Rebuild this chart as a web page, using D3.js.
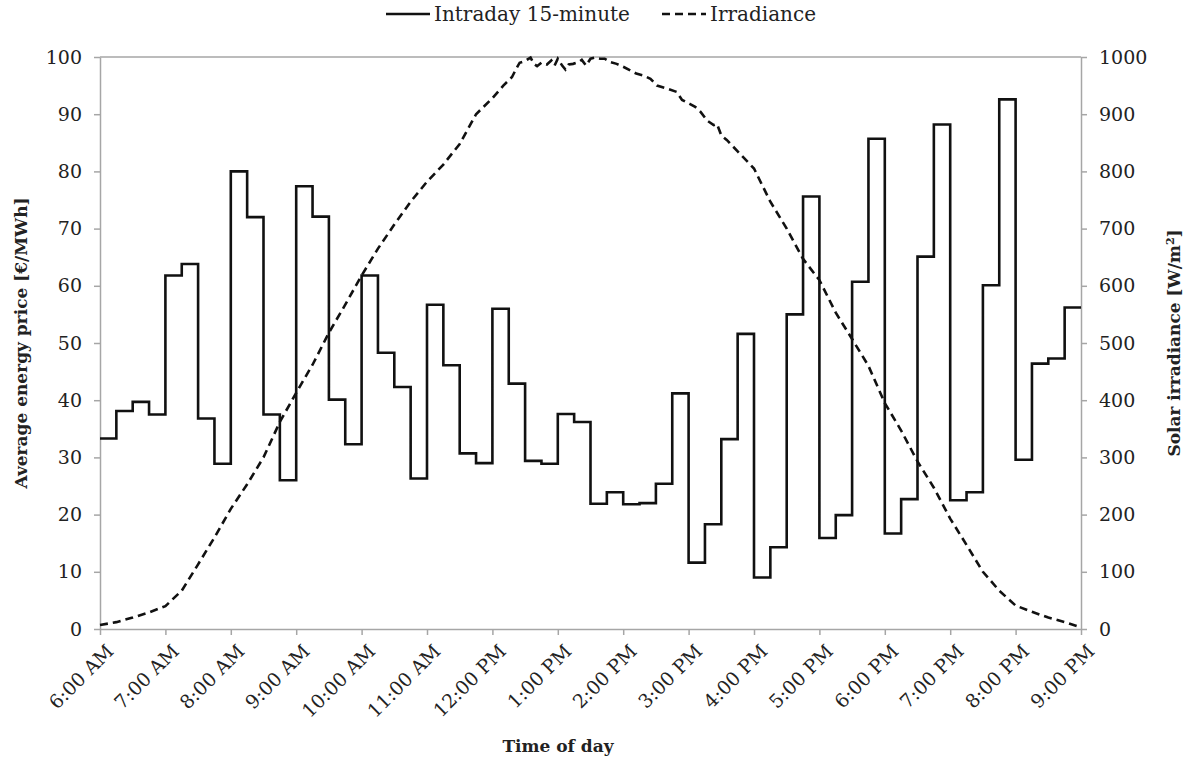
<!DOCTYPE html>
<html>
<head>
<meta charset="utf-8">
<script src="https://cdn.jsdelivr.net/npm/d3@7"></script>
<style>
  body { margin: 0; background: #fff; }
  svg text { font-family: "DejaVu Serif", "Liberation Serif", serif; fill: #222; }
  .axis path, .axis line { stroke: #a6a6a6; stroke-width: 1.5; }
  .axis text { font-size: 19px; }
  .title { font-size: 17px; font-weight: bold; }
</style>
</head>
<body>
<svg id="chart" width="1193" height="760"></svg>
<script>
// time labels, one per hour from 6:00 AM
var hourLabels = ["6:00 AM", "7:00 AM", "8:00 AM", "9:00 AM", "10:00 AM", "11:00 AM",
  "12:00 PM", "1:00 PM", "2:00 PM", "3:00 PM", "4:00 PM", "5:00 PM", "6:00 PM",
  "7:00 PM", "8:00 PM", "9:00 PM"];
var priceTicks = [0, 10, 20, 30, 40, 50, 60, 70, 80, 90, 100];
var irrTicks = [0, 100, 200, 300, 400, 500, 600, 700, 800, 900, 1000];

// intraday 15-minute price, one value per quarter hour from 6:00 AM
var intraday = [33.3, 38.1, 39.7, 37.5, 61.8, 63.8, 36.8, 28.9,
  80.0, 72.0, 37.5, 26.0, 77.4, 72.1, 40.1, 32.3,
  61.8, 48.3, 42.3, 26.3, 56.7, 46.1, 30.7, 29.0,
  56.0, 42.9, 29.4, 28.9, 37.6, 36.2, 21.9, 23.9,
  21.8, 22.0, 25.4, 41.2, 11.6, 18.3, 33.2, 51.6,
  9.0, 14.3, 55.0, 75.6, 15.9, 19.9, 60.7, 85.7,
  16.7, 22.7, 65.1, 88.2, 22.5, 23.9, 60.1, 92.6,
  29.6, 46.4, 47.3, 56.2];

// solar irradiance, [minutes after 6:00 AM, W/m2]
var irradiance = [[0, 7], [15, 12], [30, 20], [45, 29], [60, 40], [75, 67], [90, 113],
  [105, 160], [120, 210], [135, 253], [150, 300], [165, 362], [180, 413], [195, 462],
  [210, 518], [225, 567], [240, 618], [255, 665], [270, 707], [285, 747], [300, 782],
  [315, 812], [330, 848], [345, 900], [360, 928], [370, 950], [378, 965], [382, 980],
  [385, 990], [390, 993], [395, 999], [398, 988], [401, 984], [405, 990], [410, 987],
  [414, 994], [417, 985], [420, 997], [424, 985], [427, 978], [430, 987], [434, 988],
  [439, 991], [442, 995], [446, 985], [450, 997], [454, 999], [459, 997], [463, 997],
  [468, 991], [474, 988], [480, 983], [486, 977], [492, 971], [498, 968], [505, 962],
  [511, 950], [520, 945], [529, 939], [534, 925], [541, 918], [546, 913], [551, 904],
  [557, 889], [563, 881], [566, 883], [570, 863], [575, 855], [585, 835], [600, 805],
  [615, 747], [630, 700], [645, 647], [660, 610], [675, 553], [690, 507], [705, 460],
  [720, 395], [735, 347], [750, 293], [765, 247], [780, 193], [795, 147], [810, 100],
  [825, 67], [840, 41], [855, 30], [870, 20], [885, 12], [900, 3]];

var margin = {left: 100, right: 112, top: 57, bottom: 131};
var svg = d3.select("#chart");
var W = +svg.attr("width"), H = +svg.attr("height");

var x = d3.scaleLinear().domain([0, 900]).range([margin.left, W - margin.right]);
var yL = d3.scaleLinear().domain([0, 100]).range([H - margin.bottom, margin.top]);
var yR = d3.scaleLinear().domain([0, 1000]).range([H - margin.bottom, margin.top]);

// top border of the plot
svg.append("line")
  .attr("x1", x(0)).attr("x2", x(900))
  .attr("y1", yL(100)).attr("y2", yL(100))
  .attr("stroke", "#a6a6a6").attr("stroke-width", 1.5);

// x axis
var gx = svg.append("g").attr("class", "axis")
  .attr("transform", "translate(0," + yL(0) + ")")
  .call(d3.axisBottom(x)
    .tickValues(d3.range(0, 901, 60))
    .tickFormat((d, i) => hourLabels[i])
    .tickSizeInner(6).tickSizeOuter(0));
gx.selectAll("text")
  .attr("text-anchor", "end")
  .attr("dx", 0).attr("dy", 0)
  .attr("transform", "translate(8,17) rotate(-45)");

// left axis
svg.append("g").attr("class", "axis")
  .attr("transform", "translate(" + x(0) + ",0)")
  .call(d3.axisLeft(yL).tickValues(priceTicks).tickSizeInner(6).tickSizeOuter(0).tickPadding(12));

// right axis
svg.append("g").attr("class", "axis")
  .attr("transform", "translate(" + x(900) + ",0)")
  .call(d3.axisRight(yR).tickValues(irrTicks).tickFormat(d3.format("d"))
    .tickSizeInner(6).tickSizeOuter(0).tickPadding(12));

// irradiance dashed line
var irrLine = d3.line()
  .x(d => x(d[0]))
  .y(d => yR(d[1]));
svg.append("path")
  .datum(irradiance)
  .attr("d", irrLine)
  .attr("fill", "none")
  .attr("stroke", "#111")
  .attr("stroke-width", 2.6)
  .attr("stroke-dasharray", "8,5");

// intraday price step line
var stepData = intraday.map((v, i) => [i * 15, v]);
stepData.push([900, intraday[intraday.length - 1]]);
var stepLine = d3.line()
  .x(d => x(d[0]))
  .y(d => yL(d[1]))
  .curve(d3.curveStepAfter);
svg.append("path")
  .datum(stepData)
  .attr("d", stepLine)
  .attr("fill", "none")
  .attr("stroke", "#111")
  .attr("stroke-width", 2.6);

// axis titles
svg.append("text").attr("class", "title")
  .attr("transform", "translate(27," + (yL(50)) + ") rotate(-90)")
  .attr("text-anchor", "middle")
  .text("Average energy price [€/MWh]");

var rt = svg.append("text").attr("class", "title")
  .attr("transform", "translate(1180," + (yL(50)) + ") rotate(-90)")
  .attr("text-anchor", "middle");
rt.append("tspan").text("Solar irradiance [W/m");
rt.append("tspan").attr("baseline-shift", "super").attr("font-size", "11px").text("2");
rt.append("tspan").text("]");

svg.append("text").attr("class", "title")
  .attr("x", 558).attr("y", 752)
  .attr("text-anchor", "middle")
  .text("Time of day");

// legend
var legend = svg.append("g").attr("transform", "translate(0,14)");
legend.append("line")
  .attr("x1", 386).attr("x2", 430).attr("y1", 0).attr("y2", 0)
  .attr("stroke", "#111").attr("stroke-width", 2.6);
legend.append("text")
  .attr("x", 434).attr("y", 7)
  .style("font-size", "20px")
  .text("Intraday 15-minute");
legend.append("line")
  .attr("x1", 662).attr("x2", 706).attr("y1", 0).attr("y2", 0)
  .attr("stroke", "#111").attr("stroke-width", 2.6)
  .attr("stroke-dasharray", "8,5");
legend.append("text")
  .attr("x", 710).attr("y", 7)
  .style("font-size", "20px")
  .text("Irradiance");
</script>
</body>
</html>
